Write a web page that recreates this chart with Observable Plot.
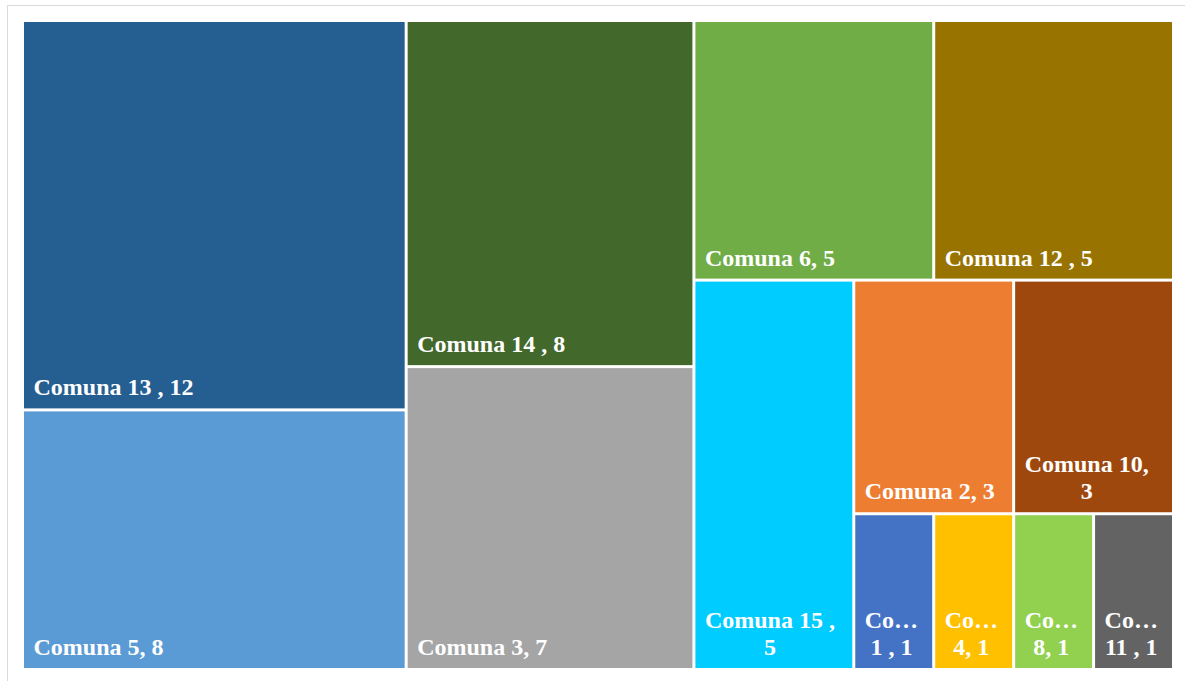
<!DOCTYPE html>
<html>
<head>
<meta charset="utf-8">
<script src="https://cdn.jsdelivr.net/npm/d3@7"></script>
<script src="https://cdn.jsdelivr.net/npm/@observablehq/plot@0.6"></script>
<style>
  html, body { margin: 0; padding: 0; background: #fff; overflow: hidden; }
  #chart { position: relative; width: 1185px; height: 681px; }
  #chart svg { position: absolute; left: 0; top: 0; }
  #frame {
    position: absolute; left: 7px; top: 5px; width: 1200px; height: 700px;
    border: 1px solid #d9d9d9; pointer-events: none;
  }
</style>
</head>
<body>
<div id="chart"><div id="frame"></div></div>
<script>
// Cases per comuna
const comunas = ["Comuna 1 ", "Comuna 2", "Comuna 3", "Comuna 4", "Comuna 5", "Comuna 6",
                 "Comuna 8", "Comuna 10", "Comuna 11 ", "Comuna 12 ", "Comuna 13 ", "Comuna 14 ", "Comuna 15 "];
const casos = [1, 3, 7, 1, 8, 5, 1, 3, 1, 5, 12, 8, 5];
const colores = ["#4472c4", "#ed7d31", "#a5a5a5", "#ffc000", "#5b9bd5", "#70ad47",
                 "#92d050", "#9e480e", "#636363", "#997300", "#255e91", "#43682b", "#00ccff"];

const width = 1185, height = 681;
const margin = {left: 22.5, top: 20.5, right: 11.5, bottom: 11.5};
const W = width - margin.left - margin.right;
const H = height - margin.top - margin.bottom;
const inset = 1.5;
const pad = 9;
const font = {family: "Liberation Serif", size: 24, weight: "bold"};

// Squarified tiling whose target row aspect may go below 1
function squarifyTile(ratio) {
  return (parent, x0, y0, x1, y1) => {
    const nodes = parent.children;
    const n = nodes.length;
    let i0 = 0, value = parent.value;
    while (i0 < n) {
      const dx = x1 - x0, dy = y1 - y0;
      let sumValue = nodes[i0].value, minValue = sumValue, maxValue = sumValue;
      const alpha = Math.max(dy / dx, dx / dy) / (value * ratio);
      let beta = sumValue * sumValue * alpha;
      let minRatio = Math.max(maxValue / beta, beta / minValue);
      let i1 = i0 + 1;
      for (; i1 < n; ++i1) {
        const v = nodes[i1].value;
        sumValue += v;
        if (v < minValue) minValue = v;
        if (v > maxValue) maxValue = v;
        beta = sumValue * sumValue * alpha;
        const newRatio = Math.max(maxValue / beta, beta / minValue);
        if (newRatio > minRatio) { sumValue -= v; break; }
        minRatio = newRatio;
      }
      const row = {value: sumValue, children: nodes.slice(i0, i1)};
      if (dx < dy) d3.treemapDice(row, x0, y0, x1, value ? (y0 += dy * sumValue / value) : y1);
      else d3.treemapSlice(row, x0, y0, value ? (x0 += dx * sumValue / value) : x1, y1);
      value -= sumValue;
      i0 = i1;
    }
  };
}

const root = d3.hierarchy({children: comunas.map((name, i) => ({name, value: casos[i]}))})
  .sum(d => d.value || 0)
  .sort((a, b) => b.value - a.value);
d3.treemap().size([W, H]).tile(squarifyTile(0.8))(root);

// Label wrapping and truncation
const ctx = document.createElement("canvas").getContext("2d");
ctx.font = `${font.weight} ${font.size}px '${font.family}'`;
const measure = s => ctx.measureText(s).width;
function ellipsize(line, maxW) {
  if (measure(line) <= maxW) return line;
  let k = line.length;
  while (k > 1 && measure(line.slice(0, k) + "…") > maxW) k--;
  return line.slice(0, k) + "…";
}
function wrap(label, maxW) {
  const words = label.split(" ").filter(w => w.length);
  const lines = [];
  let line = "";
  for (const w of words) {
    const cand = line ? line + " " + w : w;
    if (!line || measure(cand) <= maxW) line = cand;
    else { lines.push(line); line = w; }
  }
  lines.push(line);
  return lines.map(l => ellipsize(l, maxW));
}

const cells = root.leaves().map(d => {
  const maxW = (d.x1 - d.x0) - 2 * inset - 2 * pad;
  const lines = wrap(`${d.data.name}, ${d.data.value}`, maxW);
  const blockW = d3.max(lines, measure);
  return {
    name: d.data.name, value: d.data.value,
    x0: d.x0, x1: d.x1, y0: d.y0, y1: d.y1,
    tx: d.x0 + inset + pad + blockW / 2,
    label: lines.join("\n")
  };
});

const chart = Plot.plot({
  width, height,
  marginLeft: margin.left, marginTop: margin.top, marginRight: margin.right, marginBottom: margin.bottom,
  x: {domain: [0, W], axis: null},
  y: {domain: [0, H], axis: null, reverse: true},
  color: {domain: comunas, range: colores},
  style: {background: "transparent"},
  marks: [
    Plot.rect(cells, {x1: "x0", x2: "x1", y1: "y0", y2: "y1", fill: "name", inset}),
    Plot.text(cells, {
      x: "tx", y: "y1", text: "label",
      dy: -15, textAnchor: "middle", lineAnchor: "bottom", lineHeight: 1.14,
      fill: "white", fontFamily: font.family, fontSize: font.size, fontWeight: font.weight
    })
  ]
});
document.getElementById("chart").prepend(chart);
</script>
</body>
</html>
